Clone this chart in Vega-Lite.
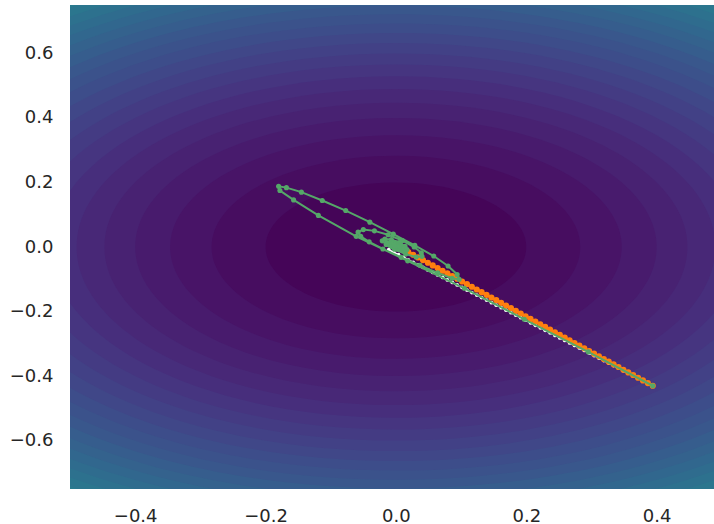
{
  "$schema": "https://vega.github.io/schema/vega-lite/v6.json",
  "width": 644,
  "height": 484,
  "autosize": {"type": "none"},
  "padding": {"left": 70, "top": 5, "right": 0, "bottom": 35},
  "background": "white",
  "config": {
    "view": {"stroke": null},
    "axis": {"domain": false, "ticks": false, "tickSize": 0, "grid": false, "title": null, "labelFont": "DejaVu Sans", "labelFontSize": 18, "labelColor": "#262626", "format": ".1f", "labelOverlap": false}
  },
  "datasets": {
    "levels": [
      {"level": 0.84, "mid": 0.82, "cx": 0, "cy": 0},
      {"level": 0.80, "mid": 0.78, "cx": 0, "cy": 0},
      {"level": 0.76, "mid": 0.74, "cx": 0, "cy": 0},
      {"level": 0.72, "mid": 0.70, "cx": 0, "cy": 0},
      {"level": 0.68, "mid": 0.66, "cx": 0, "cy": 0},
      {"level": 0.64, "mid": 0.62, "cx": 0, "cy": 0},
      {"level": 0.60, "mid": 0.58, "cx": 0, "cy": 0},
      {"level": 0.56, "mid": 0.54, "cx": 0, "cy": 0},
      {"level": 0.52, "mid": 0.50, "cx": 0, "cy": 0},
      {"level": 0.48, "mid": 0.46, "cx": 0, "cy": 0},
      {"level": 0.44, "mid": 0.42, "cx": 0, "cy": 0},
      {"level": 0.40, "mid": 0.38, "cx": 0, "cy": 0},
      {"level": 0.36, "mid": 0.34, "cx": 0, "cy": 0},
      {"level": 0.32, "mid": 0.30, "cx": 0, "cy": 0},
      {"level": 0.28, "mid": 0.26, "cx": 0, "cy": 0},
      {"level": 0.24, "mid": 0.22, "cx": 0, "cy": 0},
      {"level": 0.20, "mid": 0.18, "cx": 0, "cy": 0},
      {"level": 0.16, "mid": 0.14, "cx": 0, "cy": 0},
      {"level": 0.12, "mid": 0.10, "cx": 0, "cy": 0},
      {"level": 0.08, "mid": 0.06, "cx": 0, "cy": 0},
      {"level": 0.04, "mid": 0.02, "cx": 0, "cy": 0}
    ],
    "white": [
      {"step": 0, "x": 0.394, "y": -0.4300}, {"step": 1, "x": 0.3865, "y": -0.4222}, {"step": 2, "x": 0.379, "y": -0.4144},
      {"step": 3, "x": 0.3715, "y": -0.4066}, {"step": 4, "x": 0.364, "y": -0.3988}, {"step": 5, "x": 0.3565, "y": -0.3910},
      {"step": 6, "x": 0.349, "y": -0.3832}, {"step": 7, "x": 0.3415, "y": -0.3753}, {"step": 8, "x": 0.334, "y": -0.3675},
      {"step": 9, "x": 0.3265, "y": -0.3597}, {"step": 10, "x": 0.319, "y": -0.3519}, {"step": 11, "x": 0.3115, "y": -0.3441},
      {"step": 12, "x": 0.304, "y": -0.3363}, {"step": 13, "x": 0.2965, "y": -0.3285}, {"step": 14, "x": 0.289, "y": -0.3207},
      {"step": 15, "x": 0.2815, "y": -0.3129}, {"step": 16, "x": 0.274, "y": -0.3051}, {"step": 17, "x": 0.2665, "y": -0.2973},
      {"step": 18, "x": 0.259, "y": -0.2895}, {"step": 19, "x": 0.2515, "y": -0.2817}, {"step": 20, "x": 0.244, "y": -0.2739},
      {"step": 21, "x": 0.2365, "y": -0.2660}, {"step": 22, "x": 0.229, "y": -0.2582}, {"step": 23, "x": 0.2215, "y": -0.2504},
      {"step": 24, "x": 0.214, "y": -0.2426}, {"step": 25, "x": 0.2065, "y": -0.2348}, {"step": 26, "x": 0.199, "y": -0.2270},
      {"step": 27, "x": 0.1915, "y": -0.2192}, {"step": 28, "x": 0.184, "y": -0.2114}, {"step": 29, "x": 0.1765, "y": -0.2036},
      {"step": 30, "x": 0.169, "y": -0.1958}, {"step": 31, "x": 0.1615, "y": -0.1880}, {"step": 32, "x": 0.154, "y": -0.1802},
      {"step": 33, "x": 0.1465, "y": -0.1724}, {"step": 34, "x": 0.139, "y": -0.1645}, {"step": 35, "x": 0.1315, "y": -0.1567},
      {"step": 36, "x": 0.124, "y": -0.1489}, {"step": 37, "x": 0.1165, "y": -0.1411}, {"step": 38, "x": 0.109, "y": -0.1333},
      {"step": 39, "x": 0.1015, "y": -0.1255}, {"step": 40, "x": 0.094, "y": -0.1177}, {"step": 41, "x": 0.0865, "y": -0.1099},
      {"step": 42, "x": 0.079, "y": -0.1021}, {"step": 43, "x": 0.0715, "y": -0.0943}, {"step": 44, "x": 0.064, "y": -0.0865},
      {"step": 45, "x": 0.0565, "y": -0.0787}, {"step": 46, "x": 0.049, "y": -0.0709}, {"step": 47, "x": 0.0415, "y": -0.0630},
      {"step": 48, "x": 0.034, "y": -0.0552}, {"step": 49, "x": 0.0265, "y": -0.0474}, {"step": 50, "x": 0.019, "y": -0.0396},
      {"step": 51, "x": 0.0115, "y": -0.0318}, {"step": 52, "x": 0.004, "y": -0.0240}, {"step": 53, "x": -0.0035, "y": -0.0162},
      {"step": 54, "x": -0.011, "y": -0.0084}
    ],
    "orange": [
      {"step": 0, "x": 0.394, "y": -0.4300}, {"step": 1, "x": 0.3865, "y": -0.4217}, {"step": 2, "x": 0.379, "y": -0.4134},
      {"step": 3, "x": 0.3715, "y": -0.4051}, {"step": 4, "x": 0.364, "y": -0.3968}, {"step": 5, "x": 0.3565, "y": -0.3886},
      {"step": 6, "x": 0.349, "y": -0.3803}, {"step": 7, "x": 0.3415, "y": -0.3720}, {"step": 8, "x": 0.334, "y": -0.3637},
      {"step": 9, "x": 0.3265, "y": -0.3554}, {"step": 10, "x": 0.319, "y": -0.3471}, {"step": 11, "x": 0.3115, "y": -0.3388},
      {"step": 12, "x": 0.304, "y": -0.3305}, {"step": 13, "x": 0.2965, "y": -0.3223}, {"step": 14, "x": 0.289, "y": -0.3140},
      {"step": 15, "x": 0.2815, "y": -0.3057}, {"step": 16, "x": 0.274, "y": -0.2974}, {"step": 17, "x": 0.2665, "y": -0.2891},
      {"step": 18, "x": 0.259, "y": -0.2808}, {"step": 19, "x": 0.2515, "y": -0.2725}, {"step": 20, "x": 0.244, "y": -0.2642},
      {"step": 21, "x": 0.2365, "y": -0.2560}, {"step": 22, "x": 0.229, "y": -0.2477}, {"step": 23, "x": 0.2215, "y": -0.2394},
      {"step": 24, "x": 0.214, "y": -0.2311}, {"step": 25, "x": 0.2065, "y": -0.2228}, {"step": 26, "x": 0.199, "y": -0.2145},
      {"step": 27, "x": 0.1915, "y": -0.2062}, {"step": 28, "x": 0.184, "y": -0.1979}, {"step": 29, "x": 0.1765, "y": -0.1896},
      {"step": 30, "x": 0.169, "y": -0.1814}, {"step": 31, "x": 0.1615, "y": -0.1731}, {"step": 32, "x": 0.154, "y": -0.1648},
      {"step": 33, "x": 0.1465, "y": -0.1565}, {"step": 34, "x": 0.139, "y": -0.1482}, {"step": 35, "x": 0.1315, "y": -0.1399},
      {"step": 36, "x": 0.124, "y": -0.1316}, {"step": 37, "x": 0.1165, "y": -0.1233}, {"step": 38, "x": 0.109, "y": -0.1151},
      {"step": 39, "x": 0.1015, "y": -0.1068}, {"step": 40, "x": 0.094, "y": -0.0985}, {"step": 41, "x": 0.0865, "y": -0.0902},
      {"step": 42, "x": 0.079, "y": -0.0819}, {"step": 43, "x": 0.0715, "y": -0.0736}, {"step": 44, "x": 0.064, "y": -0.0653},
      {"step": 45, "x": 0.0565, "y": -0.0570}, {"step": 46, "x": 0.049, "y": -0.0488}, {"step": 47, "x": 0.0415, "y": -0.0405},
      {"step": 48, "x": 0.034, "y": -0.0322}, {"step": 49, "x": 0.0265, "y": -0.0239}, {"step": 50, "x": 0.019, "y": -0.0156},
      {"step": 51, "x": 0.0115, "y": -0.0073}, {"step": 52, "x": 0.008, "y": -0.0040}
    ],
    "green": [
      {"step": 0, "x": 0.394, "y": -0.430}, {"step": 1, "x": 0.295, "y": -0.325}, {"step": 2, "x": 0.197, "y": -0.224},
      {"step": 3, "x": 0.105, "y": -0.128}, {"step": 4, "x": 0.018, "y": -0.043}, {"step": 5, "x": -0.061, "y": 0.033},
      {"step": 6, "x": -0.119, "y": 0.098}, {"step": 7, "x": -0.157, "y": 0.146}, {"step": 8, "x": -0.178, "y": 0.175},
      {"step": 9, "x": -0.180, "y": 0.188}, {"step": 10, "x": -0.168, "y": 0.184}, {"step": 11, "x": -0.145, "y": 0.170},
      {"step": 12, "x": -0.113, "y": 0.144}, {"step": 13, "x": -0.077, "y": 0.113}, {"step": 14, "x": -0.040, "y": 0.077},
      {"step": 15, "x": -0.004, "y": 0.040}, {"step": 16, "x": 0.029, "y": 0.005}, {"step": 17, "x": 0.058, "y": -0.028},
      {"step": 18, "x": 0.080, "y": -0.059}, {"step": 19, "x": 0.094, "y": -0.085}, {"step": 20, "x": 0.097, "y": -0.100},
      {"step": 21, "x": 0.086, "y": -0.097}, {"step": 22, "x": 0.064, "y": -0.080}, {"step": 23, "x": 0.037, "y": -0.057},
      {"step": 24, "x": 0.008, "y": -0.032}, {"step": 25, "x": -0.020, "y": -0.006}, {"step": 26, "x": -0.041, "y": 0.016},
      {"step": 27, "x": -0.054, "y": 0.033}, {"step": 28, "x": -0.058, "y": 0.046}, {"step": 29, "x": -0.050, "y": 0.054},
      {"step": 30, "x": -0.033, "y": 0.050}, {"step": 31, "x": -0.012, "y": 0.038}, {"step": 32, "x": 0.010, "y": 0.020},
      {"step": 33, "x": 0.028, "y": 0.000}, {"step": 34, "x": 0.039, "y": -0.018}, {"step": 35, "x": 0.040, "y": -0.029},
      {"step": 36, "x": 0.031, "y": -0.031}, {"step": 37, "x": 0.015, "y": -0.022}, {"step": 38, "x": -0.002, "y": -0.007},
      {"step": 39, "x": -0.015, "y": 0.008}, {"step": 40, "x": -0.021, "y": 0.019}, {"step": 41, "x": -0.017, "y": 0.025},
      {"step": 42, "x": -0.007, "y": 0.023}, {"step": 43, "x": 0.005, "y": 0.014}, {"step": 44, "x": 0.014, "y": 0.002},
      {"step": 45, "x": 0.017, "y": -0.008}, {"step": 46, "x": 0.012, "y": -0.012}, {"step": 47, "x": 0.003, "y": -0.007},
      {"step": 48, "x": -0.006, "y": 0.001}, {"step": 49, "x": -0.013, "y": 0.008}, {"step": 50, "x": -0.014, "y": 0.014},
      {"step": 51, "x": -0.008, "y": 0.016}, {"step": 52, "x": 0.001, "y": 0.012}, {"step": 53, "x": 0.008, "y": 0.005},
      {"step": 54, "x": 0.010, "y": -0.002}, {"step": 55, "x": 0.005, "y": -0.005}, {"step": 56, "x": -0.003, "y": -0.001},
      {"step": 57, "x": -0.009, "y": 0.005}, {"step": 58, "x": -0.010, "y": 0.010}, {"step": 59, "x": -0.005, "y": 0.012},
      {"step": 60, "x": 0.002, "y": 0.009}, {"step": 61, "x": 0.006, "y": 0.004}, {"step": 62, "x": 0.005, "y": 0.000},
      {"step": 63, "x": 0.000, "y": 0.000}, {"step": 64, "x": -0.005, "y": 0.004}, {"step": 65, "x": -0.006, "y": 0.008},
      {"step": 66, "x": -0.002, "y": 0.009}, {"step": 67, "x": 0.002, "y": 0.006}, {"step": 68, "x": 0.002, "y": 0.003},
      {"step": 69, "x": -0.001, "y": 0.003}, {"step": 70, "x": -0.003, "y": 0.005}
    ]
  },
  "layer": [
    {
      "data": {"name": "levels"},
      "mark": {"type": "point", "shape": "M-1,0A1,0.4951,0,1,0,1,0A1,0.4951,0,1,0,-1,0Z", "filled": true, "opacity": 1, "strokeWidth": 0, "clip": true},
      "encoding": {
        "x": {"field": "cx", "type": "quantitative", "scale": {"domain": [-0.5, 0.488], "nice": false, "zero": false}, "axis": {"values": [-0.4, -0.2, 0, 0.2, 0.4], "labelPadding": 18}},
        "y": {"field": "cy", "type": "quantitative", "scale": {"domain": [-0.75, 0.75], "nice": false, "zero": false}, "axis": {"values": [-0.6, -0.4, -0.2, 0, 0.2, 0.4, 0.6], "labelPadding": 17}},
        "size": {"field": "level", "type": "quantitative", "scale": {"type": "linear", "domain": [0, 1], "range": [0, 1699377], "zero": true}, "legend": null},
        "color": {"field": "mid", "type": "quantitative", "scale": {"scheme": "viridis", "domain": [0, 2]}, "legend": null},
        "order": {"field": "level", "sort": "descending"}
      }
    },
    {
      "data": {"name": "white"},
      "mark": {"type": "line", "color": "#ffffff", "strokeWidth": 1.5, "clip": true},
      "encoding": {"x": {"field": "x", "type": "quantitative"}, "y": {"field": "y", "type": "quantitative"}, "order": {"field": "step"}}
    },
    {
      "data": {"name": "white"},
      "mark": {"type": "point", "filled": true, "color": "#ffffff", "opacity": 1, "size": 14, "clip": true},
      "encoding": {"x": {"field": "x", "type": "quantitative"}, "y": {"field": "y", "type": "quantitative"}}
    },
    {
      "data": {"name": "orange"},
      "mark": {"type": "line", "color": "#ff7f0e", "strokeWidth": 2.5, "clip": true},
      "encoding": {"x": {"field": "x", "type": "quantitative"}, "y": {"field": "y", "type": "quantitative"}, "order": {"field": "step"}}
    },
    {
      "data": {"name": "orange"},
      "mark": {"type": "point", "filled": true, "color": "#ff7f0e", "opacity": 1, "size": 38, "clip": true},
      "encoding": {"x": {"field": "x", "type": "quantitative"}, "y": {"field": "y", "type": "quantitative"}}
    },
    {
      "data": {"name": "green"},
      "mark": {"type": "line", "color": "#55a868", "strokeWidth": 2, "clip": true},
      "encoding": {"x": {"field": "x", "type": "quantitative"}, "y": {"field": "y", "type": "quantitative"}, "order": {"field": "step"}}
    },
    {
      "data": {"name": "green"},
      "mark": {"type": "point", "filled": true, "color": "#55a868", "opacity": 1, "size": 26, "clip": true},
      "encoding": {"x": {"field": "x", "type": "quantitative"}, "y": {"field": "y", "type": "quantitative"}}
    }
  ]
}
